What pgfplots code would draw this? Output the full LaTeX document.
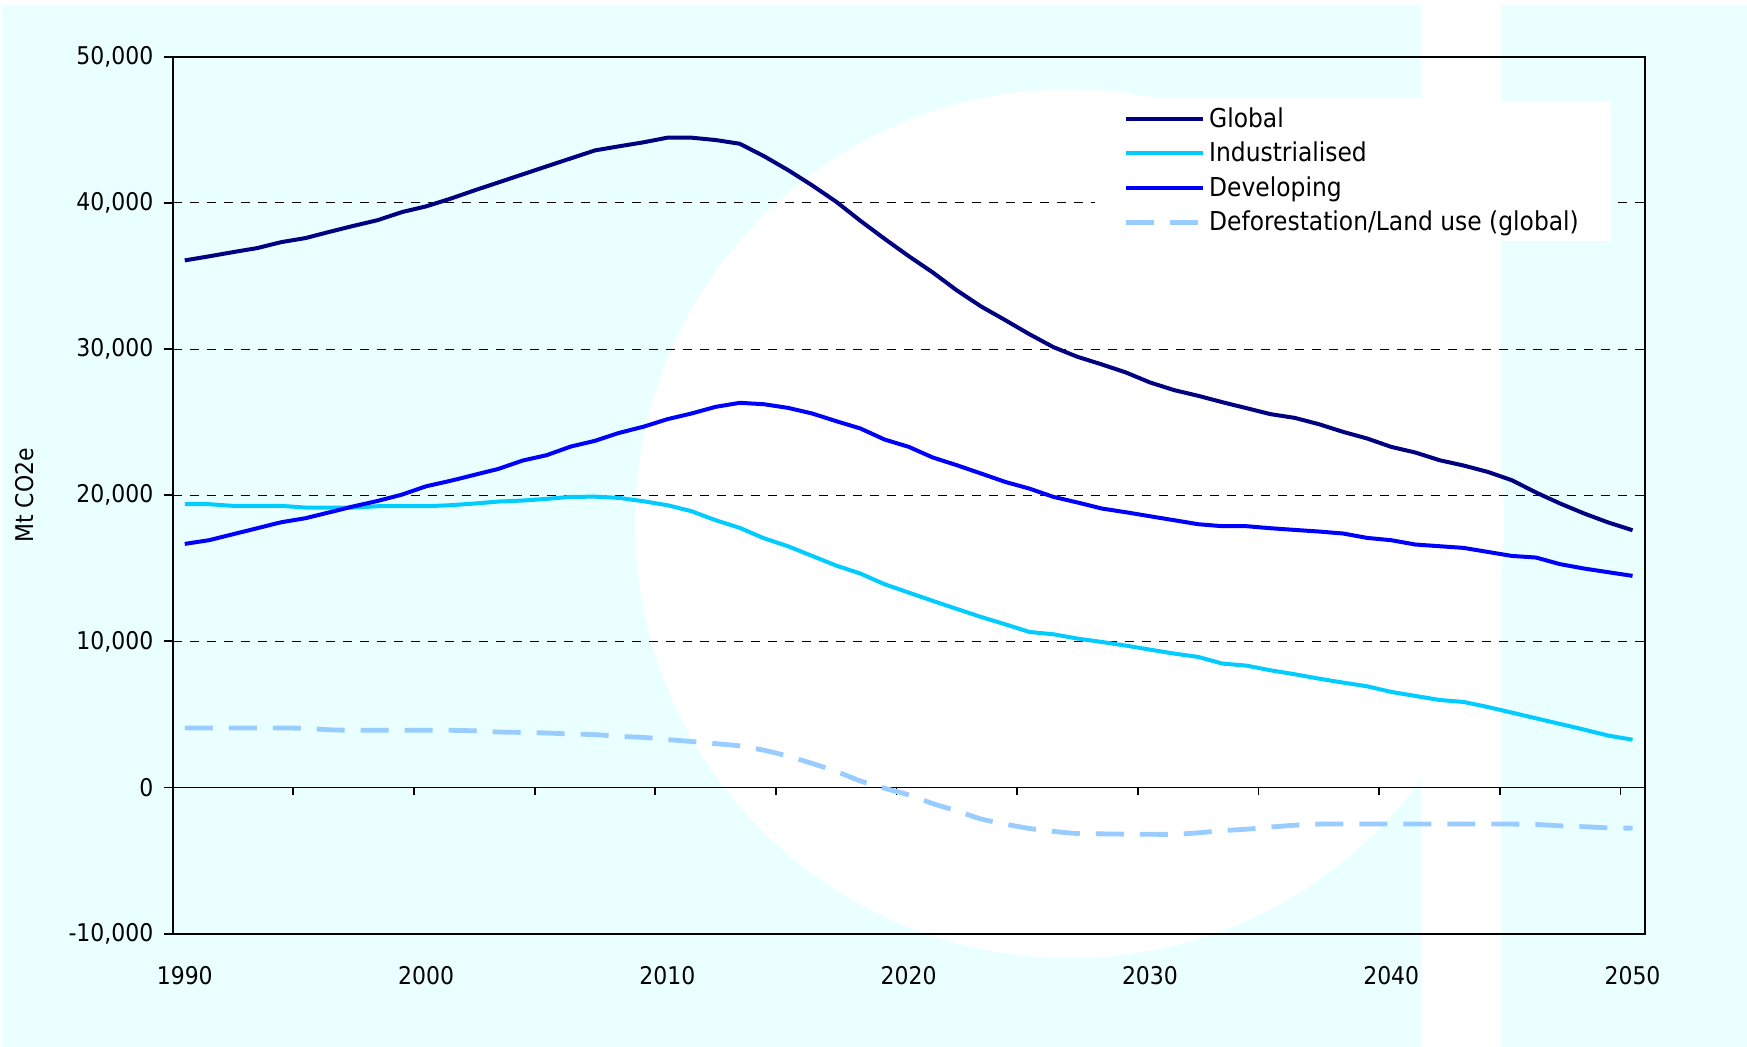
\documentclass[border=0pt]{standalone}
\usepackage{pgfplots}
\pgfplotsset{compat=1.18}
\usepackage{fontspec}
\setmainfont{DejaVu Sans Condensed}
\definecolor{bgcyan}{RGB}{234,255,255}
\definecolor{cglobal}{RGB}{0,0,128}
\definecolor{cind}{RGB}{0,204,255}
\definecolor{cdev}{RGB}{0,0,255}
\definecolor{cdef}{RGB}{153,204,255}

\pgfplotstableread{
year global ind dev def
1990 36065 19385 16670 4075
1991 36340 19385 16920 4075
1992 36630 19270 17330 4075
1993 36905 19270 17740 4075
1994 37315 19270 18150 4075
1995 37590 19155 18425 4050
1996 38020 19155 18830 3950
1997 38430 19155 19240 3915
1998 38820 19245 19610 3915
1999 39370 19245 20040 3915
2000 39760 19245 20610 3915
2001 40280 19315 20980 3915
2002 40850 19430 21390 3880
2003 41400 19565 21800 3800
2004 41950 19635 22370 3770
2005 42500 19750 22740 3730
2006 43045 19885 23330 3660
2007 43590 19900 23720 3620
2008 43870 19815 24265 3500
2009 44140 19590 24680 3430
2010 44460 19315 25200 3280
2011 44460 18905 25590 3150
2012 44300 18290 26045 3000
2013 44045 17765 26320 2850
2014 43200 17055 26225 2550
2015 42245 16510 25975 2150
2016 41200 15845 25590 1650
2017 40075 15185 25065 1100
2018 38775 14640 24565 450
2019 37545 13910 23810 -50
2020 36360 13340 23310 -500
2021 35240 12770 22580 -1100
2022 34010 12220 22050 -1600
2023 32915 11670 21485 -2150
2024 31980 11170 20910 -2500
2025 31020 10645 20455 -2800
2026 30130 10485 19885 -3000
2027 29465 10190 19500 -3150
2028 28950 9960 19090 -3170
2029 28400 9710 18835 -3190
2030 27715 9435 18560 -3200
2031 27190 9165 18290 -3200
2032 26800 8935 18015 -3100
2033 26365 8480 17880 -2950
2034 25955 8340 17880 -2850
2035 25545 8020 17740 -2700
2036 25290 7750 17625 -2580
2037 24860 7450 17515 -2500
2038 24335 7180 17380 -2500
2039 23880 6925 17080 -2500
2040 23305 6540 16920 -2500
2041 22920 6265 16625 -2500
2042 22395 5990 16510 -2500
2043 22030 5855 16395 -2500
2044 21595 5510 16120 -2500
2045 21025 5125 15845 -2500
2046 20185 4735 15735 -2530
2047 19430 4350 15280 -2620
2048 18745 3960 14980 -2680
2049 18130 3550 14730 -2760
2050 17605 3275 14480 -2780
}\datatable

\begin{document}
\begin{tikzpicture}
\fill[white] (0,0) rectangle (873.5pt,-523.5pt);
\begin{scope}[x=0.5pt,y=-0.5pt]
\fill[bgcyan] (2,5) rectangle (1747,1047);
\fill[white] (1069.6,523.7) circle[radius=217.25pt];
\fill[white] (1150,98) rectangle (1421,300);
\fill[white] (1421,0) rectangle (1501,1047);
\end{scope}
\begin{axis}[
  at={(86.35pt,-466.85pt)}, anchor=south west,
  scale only axis, width=735.95pt, height=438.5pt,
  xmin=1989.5, xmax=2050.5, ymin=-10000, ymax=50000,
  scaled y ticks=false, scaled x ticks=false,
  xtick={1990,2000,2010,2020,2030,2040,2050},
  xticklabels={1990,2000,2010,2020,2030,2040,2050},
  xtick style={draw=none},
  xtick pos=bottom,
  ytick={-10000,0,10000,20000,30000,40000,50000},
  yticklabels={{-10,000},{0},{10,000},{20,000},{30,000},{40,000},{50,000}},
  ytick pos=left,
  tick align=outside,
  major tick length=4.5pt,
  ytick style={line width=0.9pt, black},
  axis line style={line width=0.9pt, black},
  ymajorgrids,
  grid style={black, line width=0.5pt, dash pattern=on 4.7pt off 3.8pt},
  ticklabel style={font=\fontsize{12.2}{14}\selectfont, text=black},
  xticklabel style={yshift=-8.5pt},
  yticklabel style={xshift=-1.7pt},
  ylabel={Mt CO2e},
  ylabel style={at={(axis description cs:-0.1007,0.5)}, anchor=center, font=\fontsize{12.2}{14}\selectfont},
  legend style={at={(0.6266,0.9503)}, anchor=north west, fill=white, draw=none,
    font=\fontsize{13}{15}\selectfont, inner xsep=14pt, inner ysep=1.5pt, row sep=1.8pt},
  legend cell align=left,
  legend image code/.code={\draw[#1] (0pt,0pt) -- (38.5pt,0pt);},
]
\draw[line width=0.9pt, black] (axis cs:1989.5,0) -- (axis cs:2050.5,0);
\pgfplotsinvokeforeach{1994.5,1999.5,2004.5,2009.5,2014.5,2019.5,2024.5,2029.5,2034.5,2039.5,2044.5,2049.5}{
  \draw[line width=0.9pt, black] (axis cs:#1,0) -- ++(0pt,-3.5pt);
}
\addplot[cglobal, line width=2pt, line join=round] table[x=year, y=global] {\datatable};
\addlegendentry{Global}
\addplot[cind, line width=2pt, line join=round] table[x=year, y=ind] {\datatable};
\addlegendentry{Industrialised}
\addplot[cdev, line width=2pt, line join=round] table[x=year, y=dev] {\datatable};
\addlegendentry{Developing}
\addplot[cdef, line width=2.4pt, dash pattern=on 14pt off 8pt, smooth, tension=0.4] table[x=year, y=def] {\datatable};
\addlegendentry{Deforestation/Land use (global)}
\end{axis}
\end{tikzpicture}
\end{document}
